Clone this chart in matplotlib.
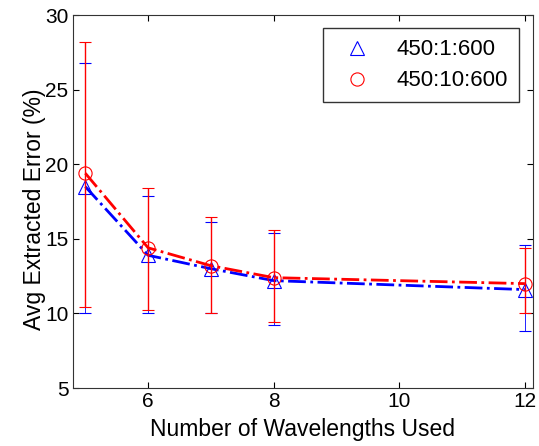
import matplotlib

matplotlib.use("Agg")
import matplotlib.pyplot as plt
import numpy as np

plt.rcParams["font.family"] = ["Liberation Sans", "DejaVu Sans"]

n_wavelengths = [5, 6, 7, 8, 12]

# 450:1:600
blue_mean = [18.5, 13.9, 13.0, 12.2, 11.6]
blue_hi = [26.8, 17.9, 16.1, 15.4, 14.6]
blue_lo = [10.0, 10.0, 10.0, 9.2, 8.8]

# 450:10:600
red_mean = [19.4, 14.4, 13.2, 12.4, 12.0]
red_hi = [28.2, 18.4, 16.5, 15.6, 14.4]
red_lo = [10.4, 10.2, 10.0, 9.4, 10.0]

labels = ["450:1:600", "450:10:600"]


def draw(ax, y, lo, hi, color, marker, label, z, elw):
    y, lo, hi = map(np.asarray, (y, lo, hi))
    ax.errorbar(n_wavelengths, y, yerr=[y - lo, hi - y], fmt="none",
                ecolor=color, elinewidth=elw, capsize=4, capthick=0.8,
                zorder=z)
    ax.plot(n_wavelengths, y, ls="-.", lw=2, color=color, zorder=z + 1)
    ax.plot(n_wavelengths, y, ls="none", marker=marker, ms=9.5, mfc="none",
            mec=color, mew=0.8, label=label, zorder=z + 2)


fig = plt.figure(figsize=(5.39, 4.46), dpi=100)
ax = fig.add_axes([0.135, 0.13, 0.854, 0.836])
draw(ax, blue_mean, blue_lo, blue_hi, "blue", "^", labels[0], 2, 0.6)
draw(ax, red_mean, red_lo, red_hi, "red", "o", labels[1], 5, 1.0)

ax.set_xlim(4.8, 12.13)
ax.set_ylim(5, 30)
ax.set_xticks([6, 8, 10, 12])
ax.set_yticks([5, 10, 15, 20, 25, 30])
ax.tick_params(direction="in", labelsize=15, top=True, right=True, length=4,
               pad=3)
for s in ax.spines.values():
    s.set_color("#333333")
ax.set_xlabel("Number of Wavelengths Used", fontsize=16.5, labelpad=5)
ax.set_ylabel("Avg Extracted Error (%)", fontsize=16.5)
ax.yaxis.set_label_coords(-0.058, 0.48)

leg = ax.legend(loc="upper right", fontsize=16, fancybox=False, edgecolor="black",
                borderpad=0.5, handlelength=2.0, handletextpad=0.8,
                labelspacing=0.45, borderaxespad=0,
                bbox_to_anchor=(0.97, 0.965))
leg.get_frame().set_linewidth(1)

fig.savefig("out.png", dpi=100)
